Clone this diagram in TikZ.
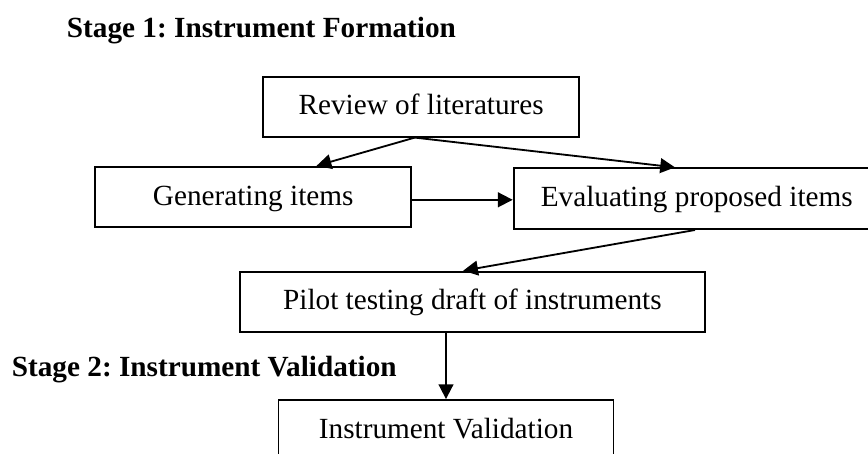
\documentclass[tikz,border=0pt]{standalone}
\usepackage{fontspec}
\setmainfont{Liberation Serif}
\usetikzlibrary{arrows.meta}

\begin{document}
\frenchspacing
\begin{tikzpicture}[
    font=\fontsize{20.8pt}{25pt}\selectfont,
    stagebox/.style={draw, line width=1.3pt, inner sep=0pt, minimum height=1.5cm,
        text height=15.6pt, text depth=4.2pt},
    title/.style={anchor=base west, inner sep=0pt, font=\fontsize{20.8pt}{25pt}\selectfont\bfseries},
    flow/.style={line width=1.3pt, -{Triangle[length=10.5pt, width=10.5pt]}}
]
    \clip (0, 0) rectangle (21.7, -11.35);

    % Stage titles
    \node[title] (st1) at (1.667, -0.94) {Stage 1: Instrument Formation};
    \node[title] (st2) at (0.29, -9.42) {Stage 2: Instrument Validation};

    % Boxes
    \node[stagebox, minimum width=7.9cm] (rev) at (10.53, -2.667) {Review of literatures};
    \node[stagebox, minimum width=7.91cm, minimum height=1.515cm] (gen) at (6.33, -4.925) {Generating items};
    \node[stagebox, minimum width=9.16cm, minimum height=1.52cm] (eval) at (17.42, -4.967) {Evaluating proposed items};
    \node[stagebox, minimum width=11.625cm] (pilot) at (11.81, -7.54) {Pilot testing draft of instruments};
    \node[stagebox, minimum width=8.375cm] (val) at (11.15, -10.75) {Instrument Validation};

    % Connectors
    \draw[flow] ([xshift=-0.16cm]rev.south) -- ([xshift=1.585cm]gen.north);
    \draw[flow] ([xshift=-0.16cm]rev.south) -- ([xshift=-0.545cm]eval.north);
    \draw[flow] ([yshift=-0.07cm]gen.east) -- ([yshift=-0.07cm]gen.east -| eval.west);
    \draw[flow] ([xshift=-0.045cm]eval.south) -- ([xshift=-0.23cm]pilot.north);
    \draw[flow] (val.north |- pilot.south) -- (val.north);
\end{tikzpicture}
\end{document}
